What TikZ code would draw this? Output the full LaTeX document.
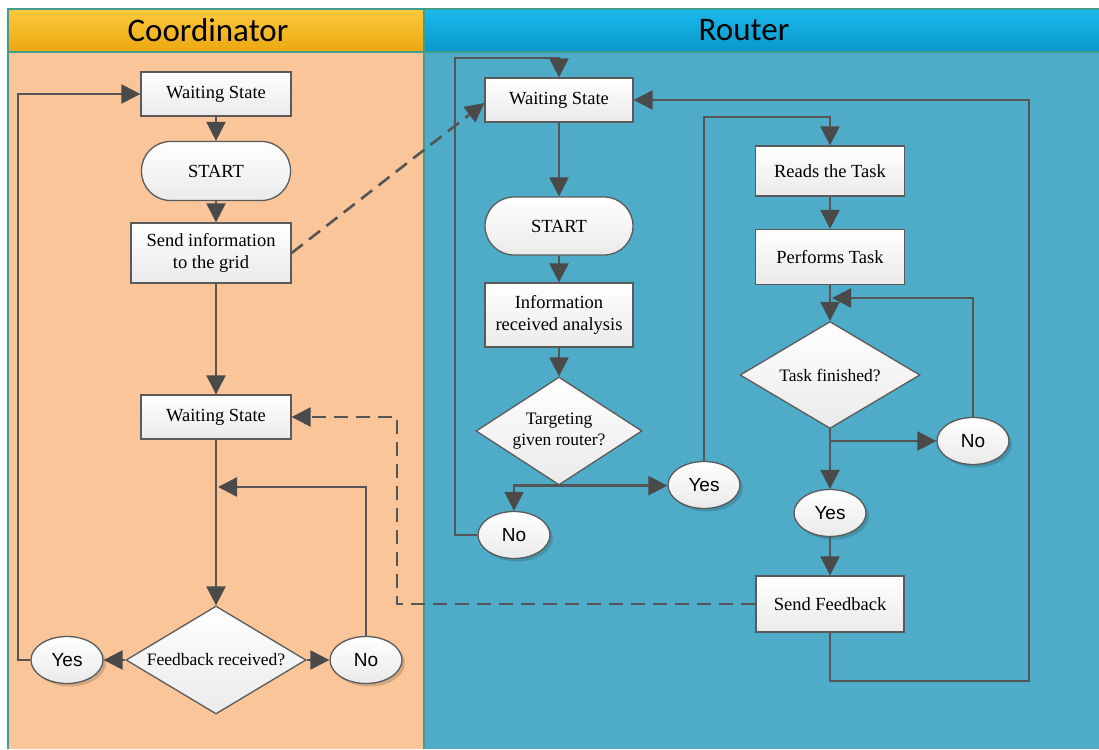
\documentclass[tikz,border=0pt]{standalone}
\usepackage{fontspec}
\setmainfont{Liberation Serif}
\newfontfamily\ynfont{Liberation Sans}
\newfontfamily\hdrfont{Carlito}
\usetikzlibrary{arrows.meta,shapes.geometric,shadows}

\definecolor{coordlane}{HTML}{FAC598}
\definecolor{routerlane}{HTML}{4FACC8}
\definecolor{coordtop}{HTML}{FFCA40}
\definecolor{coordbot}{HTML}{EBA70E}
\definecolor{routertop}{HTML}{1CBAEE}
\definecolor{routerbot}{HTML}{0897C8}
\definecolor{lanebd}{HTML}{3F9E8C}
\definecolor{boxline}{HTML}{5A5A5A}
\definecolor{boxbot}{HTML}{EAEAEA}
\definecolor{flowcol}{HTML}{555555}
\definecolor{tipcol}{HTML}{4A4A4A}

\begin{document}
\begin{tikzpicture}[x=1pt,y=-1pt,
  box/.style={draw=boxline, line width=1.3pt, rectangle, top color=white, bottom color=boxbot,
    minimum width=150pt, minimum height=44pt, inner sep=2pt, align=center,
    font=\fontsize{18.5}{22.5}\selectfont},
  term/.style={box, rounded corners=29pt},
  decision/.style={draw=boxline, line width=1.3pt, diamond, aspect=1.6, inner sep=0pt,
    top color=white, bottom color=boxbot, align=center,
    font=\fontsize{17.5}{20.5}\selectfont},
  answer/.style={draw=boxline, line width=1.3pt, ellipse, top color=white, bottom color=boxbot,
    minimum width=72pt, minimum height=47pt, inner sep=0pt,
    font=\ynfont\fontsize{19}{22}\selectfont,
    drop shadow={shadow xshift=3pt, shadow yshift=-3pt, fill=black, opacity=0.15}},
  link/.style={draw=flowcol, line width=2.4pt},
  flow/.style={link, -{Triangle[length=19pt,width=19pt,fill=tipcol,color=tipcol]}},
  dashflow/.style={flow, line width=2.6pt, dash pattern=on 14pt off 8pt},
  lanehead/.style={font=\hdrfont\fontsize{33}{36}\selectfont, text=black}
]
\useasboundingbox (0,0) rectangle (1099,749);
\fill[white] (0,0) rectangle (1099,749);

% swimlanes
\fill[coordlane] (8,52) rectangle (424,749);
\fill[routerlane] (424,52) rectangle (1110,749);
\shade[top color=coordtop, bottom color=coordbot] (8,9) rectangle (424,52);
\shade[top color=routertop, bottom color=routerbot] (424,9) rectangle (1110,52);
\draw[lanebd, line width=1.2pt] (8,749) -- (8,9) -- (1110,9);
\draw[lanebd, line width=1.2pt] (8,52) -- (1110,52);
\draw[lanebd, line width=1.2pt] (424,9) -- (424,749);
\node[lanehead] (hcoord) at (208,30) {Coordinator};
\node[lanehead] (hrouter) at (744,30) {Router};

% coordinator nodes
\node[box] (cws1) at (216,94) {Waiting State};
\node[term, minimum width=149pt, minimum height=59pt] (cstart) at (216,171) {START};
\node[box, minimum width=160pt, minimum height=60pt] (csend) at (211,253) {Send information\\to the grid};
\node[box] (cws2) at (216,417) {Waiting State};
\node[decision, minimum width=180pt, minimum height=108pt] (cfb) at (216,660) {Feedback received?};
\node[answer] (cyes) at (67,660) {Yes};
\node[answer] (cno) at (366,660) {No};

% router nodes
\node[box, minimum width=148pt] (rws) at (559,100) {Waiting State};
\node[term, minimum width=148pt, minimum height=58pt] (rstart) at (559,226) {START};
\node[box, minimum width=148pt, minimum height=64pt] (rinfo) at (559,315) {Information\\received analysis};
\node[decision, minimum width=166pt, minimum height=108pt] (rtgt) at (559,431) {Targeting\\given router?};
\node[answer] (ryes) at (704,485) {Yes};
\node[answer] (rno) at (514,535) {No};
\node[box, minimum width=149pt, minimum height=50pt] (rread) at (830,171) {Reads the Task};
\node[box, minimum width=149pt, minimum height=55pt] (rperf) at (830,257) {Performs Task};
\node[decision, minimum width=180pt, minimum height=107pt] (rtf) at (830,375) {Task finished?};
\node[answer] (rno2) at (973,441) {No};
\node[answer] (ryes2) at (830,513) {Yes};
\node[box, minimum width=148pt, minimum height=56pt] (rfb) at (830,604) {Send Feedback};

% bend points
\coordinate (cloop) at (18,94);
\coordinate (cret) at (218,487);
\coordinate (fbk) at (397,417);
\coordinate (rtop) at (455,58);
\coordinate (rjoin) at (830,117);
\coordinate (rbr) at (830,441);
\coordinate (rret) at (832,298);
\coordinate (rcorner) at (1029,681);

% coordinator flow
\draw[flow] (cws1.south) -- (cstart.north);
\draw[flow] (cstart.south) -- (cstart.south |- csend.north);
\draw[flow] (cws2.north |- csend.south) -- (cws2.north);
\draw[flow] (cws2.south) -- (cfb.north);
\draw[flow] (cfb.west) -- (cyes.east);
\draw[flow] (cfb.east) -- (cno.west);
\draw[flow] (cno.north) |- (cret);
\draw[flow] (cyes.west) -| (cloop) -- (cws1.west);

% messages between lanes
\draw[dashflow] (csend.east) -- ([yshift=-3pt]rws.west);
\draw[dashflow] (rfb.west) -| (fbk) -- (cws2.east);

% router flow
\draw[flow] (rws.south) -- (rstart.north);
\draw[flow] (rstart.south) -- (rinfo.north);
\draw[flow] (rinfo.south) -- (rtgt.north);
\draw[flow] (rtgt.south) -- (rtgt.south -| ryes.west);
\draw[flow] (rtgt.south) -| (rno.north);
\draw[flow] (rno.west) -| (rtop) -| (rws.north);
\draw[flow] (ryes.north) |- (rjoin) -- (rread.north);
\draw[flow] (rread.south) -- (rperf.north);
\draw[flow] (rperf.south) -- (rtf.north);
\draw[flow] (rtf.south) -- (ryes2.north);
\draw[flow] (rbr) -- (rno2.west);
\draw[flow] (rno2.north) |- (rret);
\draw[flow] (ryes2.south) -- (rfb.north);
\draw[flow] (rfb.south) |- (rcorner) |- (rws.east);
\end{tikzpicture}
\end{document}
